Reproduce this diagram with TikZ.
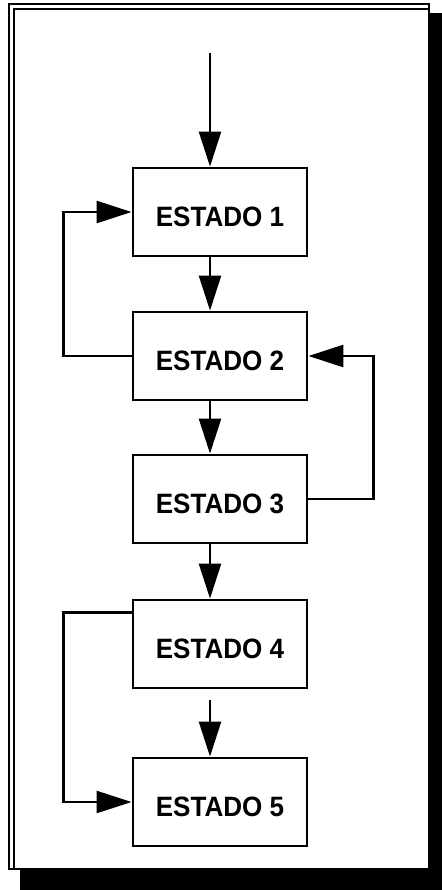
\documentclass[tikz,border=0pt]{standalone}
\usepackage{fontspec}
\setmainfont{Liberation Sans}
\usepackage{graphicx}
\usepackage{tikz}
\usetikzlibrary{calc,positioning,arrows.meta}

\begin{document}
\begin{tikzpicture}[x=0.5pt,y=-0.5pt,
  estado/.style={draw, rectangle, line width=1.4pt, fill=white, minimum width=87pt, minimum height=44pt, inner sep=0pt, text height=14pt, text depth=0pt, font=\fontsize{14}{16}\selectfont\bfseries},
  flecha/.style={line width=1.2pt, -{Triangle[length=17.5pt,width=11pt]}}]
  \useasboundingbox (0,0) rectangle (442,890);

  % marco con sombra
  \fill[black] (20,13) rectangle (442,890);
  \draw[line width=1.4pt, fill=white] (9,4) rectangle (429,869);
  \draw[line width=0.8pt] (14,869) -- (14,9) -- (429,9);

  % estados
  \node[estado] (est1) at (220,212) {\scalebox{0.93}[1]{ESTADO 1}};
  \node[estado] (est2) at (220,356) {\scalebox{0.93}[1]{ESTADO 2}};
  \node[estado] (est3) at (220,499) {\scalebox{0.93}[1]{ESTADO 3}};
  \node[estado] (est4) at (220,644) {\scalebox{0.93}[1]{ESTADO 4}};
  \node[estado] (est5) at (220,802) {\scalebox{0.93}[1]{ESTADO 5}};

  % entrada
  \coordinate (entrada) at (210,53);
  \draw[flecha] (entrada) -- ([xshift=-5pt]est1.north);

  % transiciones hacia abajo
  \draw[flecha] ([xshift=-5pt]est1.south) -- ([xshift=-5pt]est2.north);
  \draw[flecha] ([xshift=-5pt]est2.south) -- ([xshift=-5pt]est3.north);
  \draw[flecha] ([xshift=-5pt]est3.south) -- ([xshift=-5pt]est4.north);
  \draw[flecha, shorten <=5.5pt] ([xshift=-5pt]est4.south) -- ([xshift=-5pt]est5.north);

  % retornos
  \draw[flecha] (est2.west) -- ++(-68,0) |- (est1.west);
  \draw[flecha] (est3.east) -- ++(65,0) |- (est2.east);
  \draw[flecha] ([yshift=-7pt]est4.north west) -- ++(-68,0) |- (est5.west);
\end{tikzpicture}
\end{document}
